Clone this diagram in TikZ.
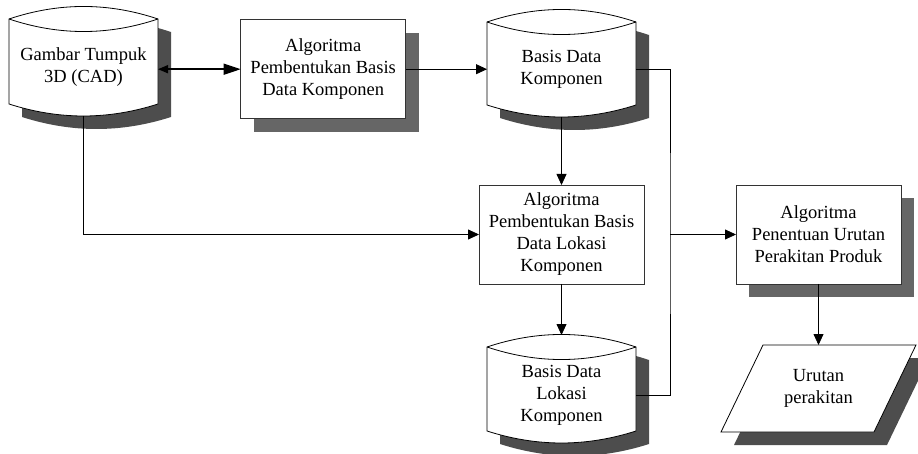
\documentclass[tikz,border=0pt]{standalone}
\usepackage{fontspec}
\setmainfont{Liberation Serif}
\usetikzlibrary{arrows.meta,calc}

\definecolor{shadeA}{HTML}{4D4D4D}
\definecolor{shadeB}{HTML}{666666}
\definecolor{edge}{HTML}{333333}

\pgfdeclarelayer{shade}
\pgfdeclarelayer{body}
\pgfsetlayers{shade,body,main}

% storage drum: frame node has outer ysep=12pt, so north/south sit on the curves
\newcommand\drumbody[1]{($(#1.north west)+(0,12)$)
  .. controls ($(#1.north west)+(50,-4.7)$) and ($(#1.north east)+(-50,-4.7)$) .. ($(#1.north east)+(0,12)$)
  -- ($(#1.south east)+(0,-12)$)
  .. controls ($(#1.south east)+(-50,4)$) and ($(#1.south west)+(50,4)$) .. ($(#1.south west)+(0,-12)$)
  -- cycle}
\newcommand\drumlid[1]{($(#1.north west)+(0,12)$)
  .. controls ($(#1.north west)+(50,28.7)$) and ($(#1.north east)+(-50,28.7)$) .. ($(#1.north east)+(0,12)$)}
% data (input/output) slanted box
\newcommand\slantbody[1]{($(#1.north west)+(42,0)$) -- (#1.north east)
  -- ($(#1.south east)+(-42,0)$) -- (#1.south west) -- cycle}

\begin{document}
\begin{tikzpicture}[x=1pt,y=-1pt,
  every node/.style={font=\fontsize{18.5}{22}\selectfont, inner sep=0pt, outer sep=0pt},
  procbox/.style={draw=edge, fill=white, line width=0.8pt, minimum width=165pt,
                  minimum height=99pt, align=center},
  dbframe/.style={minimum width=149pt, minimum height=#1, outer ysep=12pt, outer xsep=0pt},
  dbframe/.default=84pt,
  txt/.style={align=center},
  link/.style={line width=0.8pt},
  arr/.style={link, -{Triangle[length=11pt,width=10pt]}},
  shiftshade/.style={transform canvas={shift={(13pt,-13pt)}}},
]
\useasboundingbox (0,0) rectangle (918,454);

% frames
\node[dbframe=85pt] (cad) at (83.5,61.5) {};
\node[dbframe=83pt] (kdb) at (561.5,63.5) {};
\node[dbframe=84pt] (ldb) at (561.5,389) {};
\node[minimum width=195pt, minimum height=87pt, align=center] (out) at (818.5,388.5) {Urutan\\perakitan};

% process boxes
\node[procbox] (alg1) at (323.2,69.2) {Algoritma\\Pembentukan Basis\\Data Komponen};
\node[procbox] (alg2) at (561.5,234.5) {Algoritma\\Pembentukan Basis\\Data Lokasi\\Komponen};
\node[procbox] (alg3) at (818.5,234.5) {Algoritma\\Penentuan Urutan\\Perakitan Produk};

% shadows
\begin{pgfonlayer}{shade}
  \fill[shadeA, shiftshade] \drumbody{cad};
  \fill[shadeA, shiftshade] \drumbody{kdb};
  \fill[shadeA, shiftshade] \drumbody{ldb};
  \fill[shadeA, shiftshade] \slantbody{out};
  \fill[shadeB, shiftshade] (alg1.north west) rectangle (alg1.south east);
  \fill[shadeB, shiftshade] (alg3.north west) rectangle (alg3.south east);
\end{pgfonlayer}

% drum and slanted bodies
\begin{pgfonlayer}{body}
  \foreach \d in {cad,kdb,ldb}{
    \draw[fill=white, line width=0.8pt] \drumbody{\d};
    \draw[line width=0.8pt] \drumlid{\d};
  }
  \draw[fill=white, draw=black, line width=0.8pt] \slantbody{out};
\end{pgfonlayer}

% drum labels
\node[txt] (cadt) at (83.5,67.5) {Gambar Tumpuk\\3D (CAD)};
\node[txt] (kdbt) at (561.5,69) {Basis Data\\Komponen};
\node[txt] (ldbt) at (561.5,395) {Basis Data\\Lokasi\\Komponen};

% connectors
\draw[line width=1.5pt, {Triangle[length=10pt,width=8pt]}-{Triangle[length=17pt,width=11pt]}]
  (cad.east |- alg1.west) -- (alg1.west);
\draw[arr] (alg1.east) -- (alg1.east -| kdb.west);
\draw[arr] (kdb.south) -- (alg2.north);
\draw[arr] (cad.south) |- (alg2.west);
\draw[arr] (alg2.south) -- (ldb.north);
\coordinate (jn) at (670,234.5);
\draw[link] (kdb.east |- kdbt) -| (jn) |- (ldb.east |- ldbt);
\draw[arr] (jn) -- (alg3.west);
\draw[arr] (alg3.south) -- (out.north);
\end{tikzpicture}
\end{document}
